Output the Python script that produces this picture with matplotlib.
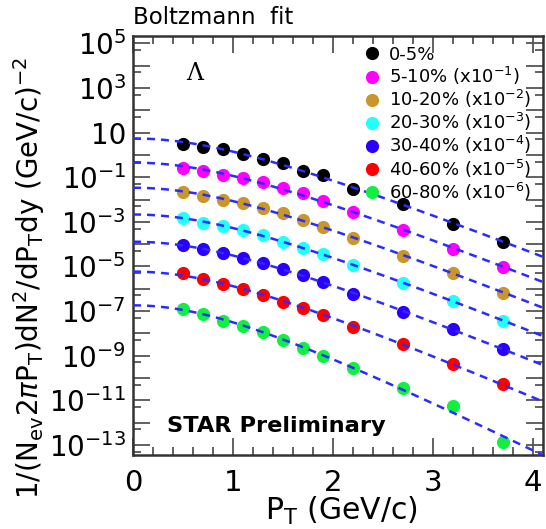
import numpy as np
import matplotlib
matplotlib.use("Agg")
import matplotlib.pyplot as plt
from matplotlib.ticker import LogLocator, FuncFormatter, MultipleLocator
from matplotlib.lines import Line2D

# pT bin centres (GeV/c)
pt = [0.5, 0.7, 0.9, 1.1, 1.3, 1.5, 1.7, 1.9, 2.2, 2.7, 3.2, 3.7]

# spectra, already scaled as in the legend
y_0_5 = [3.11, 2.36, 1.86, 1.11, 0.662, 0.425, 0.198, 0.127, 0.029, 6.15e-3, 7.8e-4, 1.29e-4]
y_5_10 = [0.269, 0.192, 0.127, 0.0902, 0.0597, 0.0321, 0.0192, 8.65e-3, 2.69e-3, 4.34e-4, 5.9e-5, 9.8e-6]
y_10_20 = [0.0226, 0.0145, 9.6e-3, 6.83e-3, 4.07e-3, 2.43e-3, 1.22e-3, 6.1e-4, 1.95e-4, 2.96e-5, 4.95e-6, 6.7e-7]
y_20_30 = [1.45e-3, 9.2e-4, 6.5e-4, 4.34e-4, 2.59e-4, 1.29e-4, 6.5e-5, 3.64e-5, 1.17e-5, 1.77e-6, 2.84e-7, 3.7e-8]
y_30_40 = [9.2e-5, 5.9e-5, 3.9e-5, 2.33e-5, 1.39e-5, 7.5e-6, 4.16e-6, 1.95e-6, 5.8e-7, 9.4e-8, 1.53e-8, 2.0e-9]
y_40_60 = [4.95e-6, 2.75e-6, 1.64e-6, 9.5e-7, 5.3e-7, 2.64e-7, 1.34e-7, 6.7e-8, 2.0e-8, 3.24e-9, 4.25e-10, 5.2e-11]
y_60_80 = [1.24e-7, 7.4e-8, 3.7e-8, 2.21e-8, 1.19e-8, 5.06e-9, 2.15e-9, 9.7e-10, 2.72e-10, 3.45e-11, 5.7e-12, 1.39e-13]

series = [y_0_5, y_5_10, y_10_20, y_20_30, y_30_40, y_40_60, y_60_80]
labels = ['0-5%', '5-10% (x10$^{-1}$)', '10-20% (x10$^{-2}$)', '20-30% (x10$^{-3}$)',
          '30-40% (x10$^{-4}$)', '40-60% (x10$^{-5}$)', '60-80% (x10$^{-6}$)']
colors = ['#000000', '#ff00ff', '#c9962a', '#22ffff', '#2a00ff', '#ff0000', '#11f040']

m_lambda = 1.1157  # GeV/c^2

plt.rcParams['font.family'] = 'DejaVu Sans'
plt.rcParams['mathtext.fontset'] = 'dejavusans'

fig = plt.figure(figsize=(5.46, 5.29), dpi=100)
W, H = 546, 529
ax = fig.add_axes([133 / W, 1 - 455 / H, 410 / W, 419 / H])

pt_arr = np.array(pt)
pt_fine = np.linspace(0, 4.1, 200)
for vals, c in zip(series, colors):
    ax.plot(pt, vals, 'o', color=c, markersize=9.5, markeredgewidth=0, zorder=3)
    # Boltzmann fit: A * mT * exp(-mT/T)
    mt = np.sqrt(pt_arr**2 + m_lambda**2)
    slope, logA = np.polyfit(mt, np.log(np.array(vals)) - np.log(mt), 1)
    mt_f = np.sqrt(pt_fine**2 + m_lambda**2)
    ax.plot(pt_fine, np.exp(logA) * mt_f * np.exp(slope * mt_f), '--', color='#2b2bff',
            lw=1.8, dashes=(3.2, 2.4), zorder=4)

ax.set_yscale('log')
ax.set_xlim(0, 4.1)
ax.set_ylim(10**-13.45, 10**5.33)

ax.yaxis.set_major_locator(LogLocator(base=10, numticks=40))
ax.yaxis.set_minor_locator(LogLocator(base=10, subs=[5], numticks=40))


def ylab(v, pos):
    e = int(round(np.log10(v)))
    if e % 2 == 0:
        return ''
    if e == 1:
        return '10'
    return '$10^{%d}$' % e


ax.yaxis.set_major_formatter(FuncFormatter(ylab))
ax.yaxis.set_minor_formatter(FuncFormatter(lambda v, p: ''))
ax.xaxis.set_major_locator(MultipleLocator(1))
ax.xaxis.set_minor_locator(MultipleLocator(0.2))

ax.tick_params(which='both', direction='in', top=True, right=True, colors='#555555',
               labelcolor='black')
ax.tick_params(axis='y', labelsize=20, pad=5)
ax.tick_params(axis='x', labelsize=21, pad=10)
ax.tick_params(which='major', length=12, width=1.3)
ax.tick_params(which='minor', length=6, width=1.3)
for s in ax.spines.values():
    s.set_linewidth(1.8)
    s.set_color('#333333')

fig.text(265 / W, 1 - 520 / H, 'P$_{\\mathrm{T}}$ (GeV/c)', fontsize=21.5, ha='left', va='baseline')
fig.text(29 / W, 1 - 278 / H,
         '1/(N$_{\\mathrm{ev}}$2$\\pi$P$_{\\mathrm{T}}$)dN$^{2}$/dP$_{\\mathrm{T}}$dy (GeV/c)$^{-2}$',
         fontsize=20, rotation=90, ha='center', va='center')
fig.text(133 / W, 1 - 24 / H, 'Boltzmann  fit', fontsize=16.5, ha='left', va='baseline')
fig.text(186 / W, 1 - 80 / H, 'Λ', fontsize=17, family='DejaVu Serif', ha='left', va='baseline')
fig.text(167 / W, 1 - 432 / H, 'STAR Preliminary', fontsize=16.2, weight='bold', ha='left', va='baseline')

handles = [Line2D([], [], marker='o', ls='', color=c, markersize=9.5, markeredgewidth=0) for c in colors]
ax.legend(handles, labels, loc='upper left', bbox_to_anchor=(0.53, 1.007), frameon=False,
          fontsize=13, handlelength=1.0, handletextpad=0.45, labelspacing=0.06, borderpad=0.2)

fig.savefig('out.png', dpi=100)
